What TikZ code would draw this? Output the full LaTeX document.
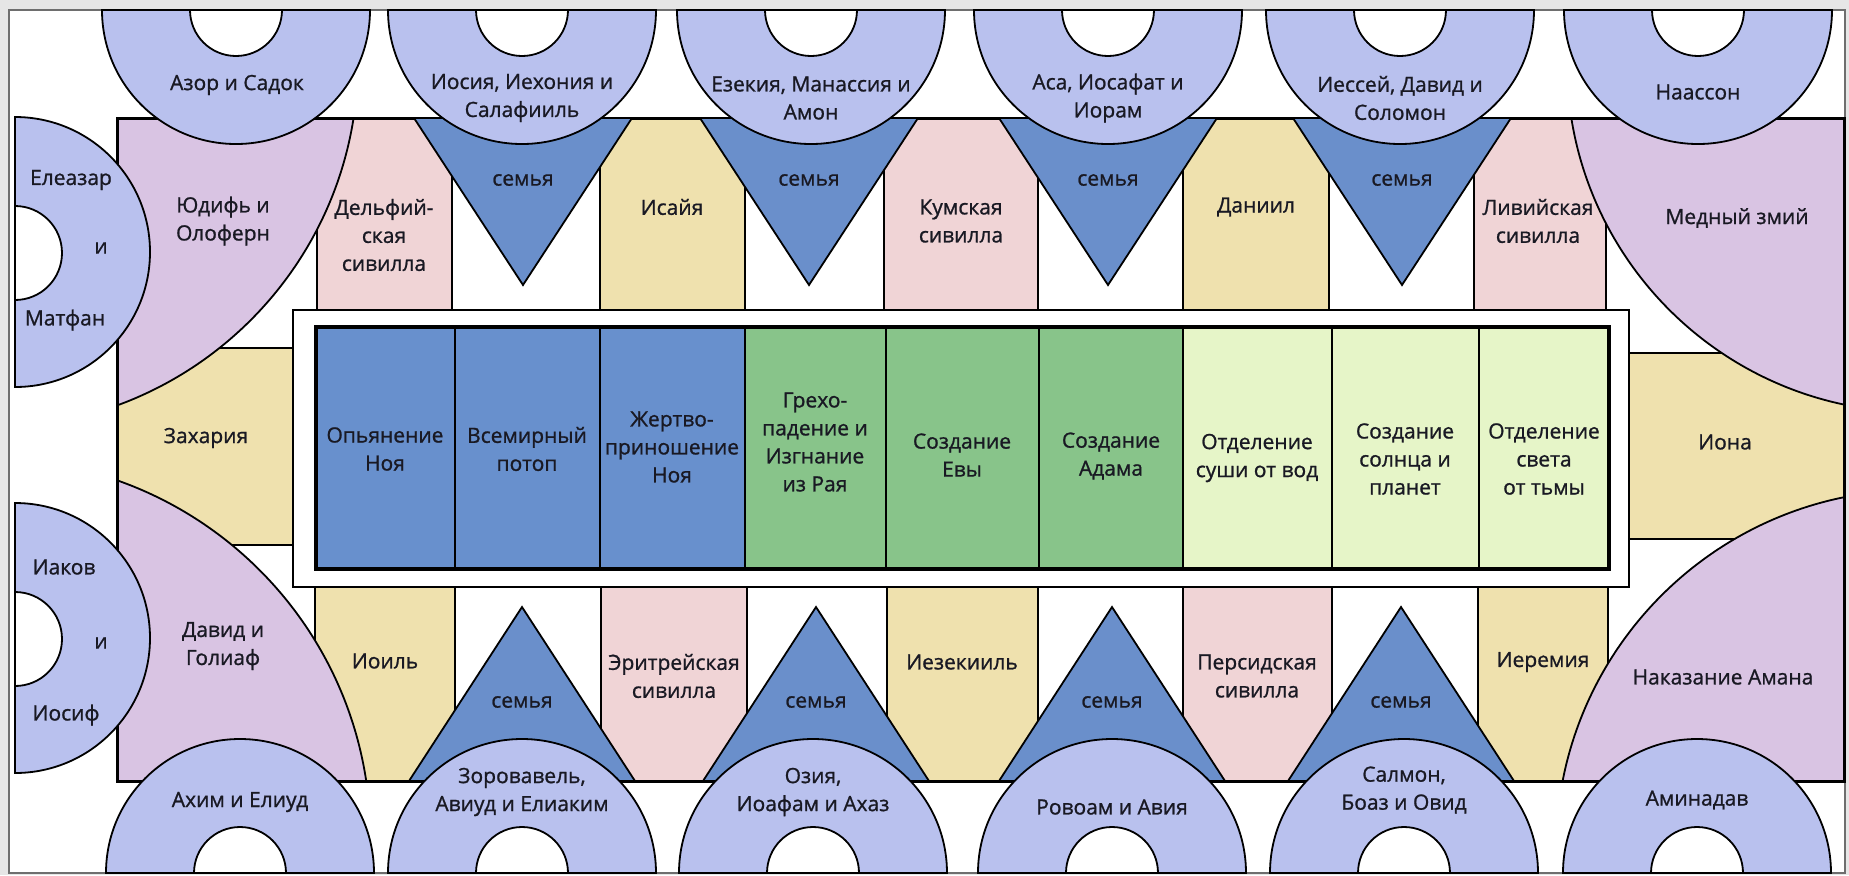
\documentclass[tikz,border=0pt]{standalone}
\usepackage{fontspec}
\setmainfont{Open Sans}[FakeBold=1]
\tikzset{every picture/.style={line width=0.9pt}}
\tikzset{
  ring/.style={draw=black, fill={rgb, 255:red, 185; green, 193; blue, 238}},
  hole/.style={draw=black, fill=white},
  family/.style={draw=black, fill={rgb, 255:red, 106; green, 143; blue, 203}},
  spandrel/.style={draw=black, fill={rgb, 255:red, 217; green, 196; blue, 227}},
  sibyl/.style={draw=black, fill={rgb, 255:red, 240; green, 212; blue, 214}},
  prophet/.style={draw=black, fill={rgb, 255:red, 239; green, 225; blue, 174}},
  noah/.style={draw=black, fill={rgb, 255:red, 104; green, 144; blue, 205}},
  eden/.style={draw=black, fill={rgb, 255:red, 136; green, 196; blue, 138}},
  light/.style={draw=black, fill={rgb, 255:red, 230; green, 245; blue, 200}},
  lbl/.style={inner sep=0.75pt, align=center, font=\fontsize{10.5}{14}\selectfont, text={rgb, 255:red, 25; green, 25; blue, 35}}
}
\begin{document}
\begin{tikzpicture}[x=0.5pt,y=0.5pt,yscale=-1,xscale=1]
\useasboundingbox (0,0) rectangle (1849,875);

%Shape: Rectangle
\fill [color={rgb, 255:red, 230; green, 230; blue, 230}] (0,0) rectangle (1849,875);
%Shape: Rectangle
\draw [color={rgb, 255:red, 110; green, 110; blue, 110}, fill=white] (9,10) rectangle (1845,873);

%Shape: Rectangle
\draw [prophet] (117,348) rectangle (293,545);
%Shape: Rectangle
\draw [prophet] (1629,353) rectangle (1844,539);

%Shape: Rectangle
\draw [sibyl] (317,118) rectangle (452,310);
%Shape: Rectangle
\draw [prophet] (600,118) rectangle (745,310);
%Shape: Rectangle
\draw [sibyl] (884,118) rectangle (1038,310);
%Shape: Rectangle
\draw [prophet] (1183,118) rectangle (1329,310);
%Shape: Rectangle
\draw [sibyl] (1474,118) rectangle (1606,310);

%Shape: Rectangle
\draw [prophet] (315,587) rectangle (455,781);
%Shape: Rectangle
\draw [sibyl] (601,587) rectangle (747,781);
%Shape: Rectangle
\draw [prophet] (887,587) rectangle (1038,781);
%Shape: Rectangle
\draw [sibyl] (1183,587) rectangle (1332,781);
%Shape: Rectangle
\draw [prophet] (1478,587) rectangle (1608,781);

%Shape: Circle
\begin{scope}
\clip (117,118) rectangle (1844,781);
\draw [spandrel] (-8.5,61) circle [radius=366.5];
\draw [spandrel] (-8.5,838) circle [radius=379];
\draw [spandrel] (1916,63) circle [radius=349];
\draw [spandrel] (1916,850) circle [radius=360];
\end{scope}

%Shape: Rectangle
\draw [line width=1.5pt] (117,118) rectangle (1844,781);

%Shape: Triangle
\draw [family] (414,118) -- (632,118) -- (523,285) -- cycle;
%Shape: Triangle
\draw [family] (700,118) -- (918,118) -- (809,285) -- cycle;
%Shape: Triangle
\draw [family] (999,118) -- (1217,118) -- (1108,285) -- cycle;
%Shape: Triangle
\draw [family] (1293,118) -- (1511,118) -- (1402,285) -- cycle;

%Shape: Triangle
\draw [family] (409,781) -- (635,781) -- (522,607) -- cycle;
%Shape: Triangle
\draw [family] (703,781) -- (929,781) -- (816,607) -- cycle;
%Shape: Triangle
\draw [family] (999,781) -- (1225,781) -- (1112,607) -- cycle;
%Shape: Triangle
\draw [family] (1288,781) -- (1514,781) -- (1401,607) -- cycle;

%Shape: Arc
\draw [ring] (102,10) arc [start angle=180, end angle=0, radius=134] -- cycle;
\draw [hole] (190,10) arc [start angle=180, end angle=0, radius=46] -- cycle;
%Shape: Arc
\draw [ring] (388,10) arc [start angle=180, end angle=0, radius=134] -- cycle;
\draw [hole] (476,10) arc [start angle=180, end angle=0, radius=46] -- cycle;
%Shape: Arc
\draw [ring] (677,10) arc [start angle=180, end angle=0, radius=134] -- cycle;
\draw [hole] (765,10) arc [start angle=180, end angle=0, radius=46] -- cycle;
%Shape: Arc
\draw [ring] (974,10) arc [start angle=180, end angle=0, radius=134] -- cycle;
\draw [hole] (1062,10) arc [start angle=180, end angle=0, radius=46] -- cycle;
%Shape: Arc
\draw [ring] (1266,10) arc [start angle=180, end angle=0, radius=134] -- cycle;
\draw [hole] (1354,10) arc [start angle=180, end angle=0, radius=46] -- cycle;
%Shape: Arc
\draw [ring] (1564,10) arc [start angle=180, end angle=0, radius=134] -- cycle;
\draw [hole] (1652,10) arc [start angle=180, end angle=0, radius=46] -- cycle;

%Shape: Arc
\draw [ring] (106,873) arc [start angle=180, end angle=360, radius=134] -- cycle;
\draw [hole] (194,873) arc [start angle=180, end angle=360, radius=46] -- cycle;
%Shape: Arc
\draw [ring] (388,873) arc [start angle=180, end angle=360, radius=134] -- cycle;
\draw [hole] (476,873) arc [start angle=180, end angle=360, radius=46] -- cycle;
%Shape: Arc
\draw [ring] (679,873) arc [start angle=180, end angle=360, radius=134] -- cycle;
\draw [hole] (767,873) arc [start angle=180, end angle=360, radius=46] -- cycle;
%Shape: Arc
\draw [ring] (978,873) arc [start angle=180, end angle=360, radius=134] -- cycle;
\draw [hole] (1066,873) arc [start angle=180, end angle=360, radius=46] -- cycle;
%Shape: Arc
\draw [ring] (1270,873) arc [start angle=180, end angle=360, radius=134] -- cycle;
\draw [hole] (1358,873) arc [start angle=180, end angle=360, radius=46] -- cycle;
%Shape: Arc
\draw [ring] (1563,873) arc [start angle=180, end angle=360, radius=134] -- cycle;
\draw [hole] (1651,873) arc [start angle=180, end angle=360, radius=46] -- cycle;

%Shape: Arc
\draw [ring] (15,117) arc [start angle=-90, end angle=90, radius=135] -- cycle;
\draw [hole] (15,206) arc [start angle=-90, end angle=90, radius=47] -- cycle;
%Shape: Arc
\draw [ring] (15,503) arc [start angle=-90, end angle=90, radius=135] -- cycle;
\draw [hole] (15,592) arc [start angle=-90, end angle=90, radius=47] -- cycle;

%Shape: Rectangle
\draw [fill=white, line width=1pt] (293,310) rectangle (1629,587);
%Shape: Rectangle
\draw [noah] (316,327) rectangle (455,569);
\draw [noah] (455,327) rectangle (600,569);
\draw [noah] (600,327) rectangle (745,569);
\draw [eden] (745,327) rectangle (886,569);
\draw [eden] (886,327) rectangle (1039,569);
\draw [eden] (1039,327) rectangle (1183,569);
\draw [light] (1183,327) rectangle (1332,569);
\draw [light] (1332,327) rectangle (1479,569);
\draw [light] (1479,327) rectangle (1609,569);
\draw [line width=1.75pt] (316,327) rectangle (1609,569);

% Text Node
\node (azor) at (237,85) [lbl] {Азор и Садок};
% Text Node
\node (iosia) at (522,98) [lbl] {Иосия, Иехония и\\Салафииль};
% Text Node
\node (ezekia) at (811,98) [lbl] {Езекия, Манассия и\\Амон};
% Text Node
\node (asa) at (1108,98) [lbl] {Аса, Иосафат и\\Иорам};
% Text Node
\node (iessei) at (1400,98) [lbl] {Иессей, Давид и\\Соломон};
% Text Node
\node (naasson) at (1698,92) [lbl] {Наассон};

% Text Node
\node (ahim) at (240,802) [lbl] {Ахим и Елиуд};
% Text Node
\node (zorovavel) at (522,792) [lbl] {Зоровавель,\\Авиуд и Елиаким};
% Text Node
\node (ozia) at (813,792) [lbl] {Озия,\\Иоафам и Ахаз};
% Text Node
\node (rovoam) at (1112,807) [lbl] {Ровоам и Авия};
% Text Node
\node (salmon) at (1404,790) [lbl] {Салмон,\\Боаз и Овид};
% Text Node
\node (aminadav) at (1697,800) [lbl] {Аминадав};

% Text Node
\node (semjaA) at (523,180) [lbl] {семья};
% Text Node
\node (semjaB) at (809,180) [lbl] {семья};
% Text Node
\node (semjaC) at (1108,180) [lbl] {семья};
% Text Node
\node (semjaD) at (1402,180) [lbl] {семья};
% Text Node
\node (semjaE) at (522,702) [lbl] {семья};
% Text Node
\node (semjaF) at (816,702) [lbl] {семья};
% Text Node
\node (semjaG) at (1112,702) [lbl] {семья};
% Text Node
\node (semjaH) at (1401,702) [lbl] {семья};

% Text Node
\node (delfi) at (384,235) [lbl] {Дельфий-\\ская\\сивилла};
% Text Node
\node (isaia) at (672,207) [lbl] {Исайя};
% Text Node
\node (kumy) at (961,221) [lbl] {Кумская\\сивилла};
% Text Node
\node (daniil) at (1256,207) [lbl] {Даниил};
% Text Node
\node (livia) at (1538,221) [lbl] {Ливийская\\сивилла};

% Text Node
\node (ioil) at (385,661) [lbl] {Иоиль};
% Text Node
\node (eritrea) at (674,676) [lbl] {Эритрейская\\сивилла};
% Text Node
\node (iezekiil) at (962,662) [lbl] {Иезекииль};
% Text Node
\node (persia) at (1257,676) [lbl] {Персидская\\сивилла};
% Text Node
\node (ieremia) at (1543,662) [lbl] {Иеремия};

% Text Node
\node (iudif) at (223,221) [lbl] {Юдифь и\\Олоферн};
% Text Node
\node (david) at (223,646) [lbl] {Давид и\\Голиаф};
% Text Node
\node (zmii) at (1737,218) [lbl] {Медный змий};
% Text Node
\node (aman) at (1723,677) [lbl] {Наказание Амана};
% Text Node
\node (zaharia) at (206,438) [lbl] {Захария};
% Text Node
\node (iona) at (1725,442) [lbl] {Иона};

% Text Node
\node (eleazar) at (71,180) [lbl] {Елеазар};
% Text Node
\node (iA) at (101,248) [lbl] {и};
% Text Node
\node (matfan) at (65,320) [lbl] {Матфан};
% Text Node
\node (iakov) at (64,567) [lbl] {Иаков};
% Text Node
\node (iB) at (101,643) [lbl] {и};
% Text Node
\node (iosif) at (66,715) [lbl] {Иосиф};

% Text Node
\node (opjanenie) at (385,449) [lbl] {Опьянение\\Ноя};
% Text Node
\node (potop) at (527,449) [lbl] {Всемирный\\потоп};
% Text Node
\node (zhertva) at (672,447) [lbl] {Жертво-\\приношение\\Ноя};
% Text Node
\node (greh) at (815,442) [lbl] {Грехо-\\падение и\\Изгнание\\из Рая};
% Text Node
\node (eva) at (962,455) [lbl] {Создание\\Евы};
% Text Node
\node (adam) at (1111,456) [lbl] {Создание\\Адама};
% Text Node
\node (sushi) at (1257,458) [lbl] {Отделение\\суши от вод};
% Text Node
\node (solnce) at (1405,459) [lbl] {Создание\\солнца и\\планет};
% Text Node
\node (svet) at (1544,459) [lbl] {Отделение\\света\\от тьмы};

\end{tikzpicture}
\end{document}
